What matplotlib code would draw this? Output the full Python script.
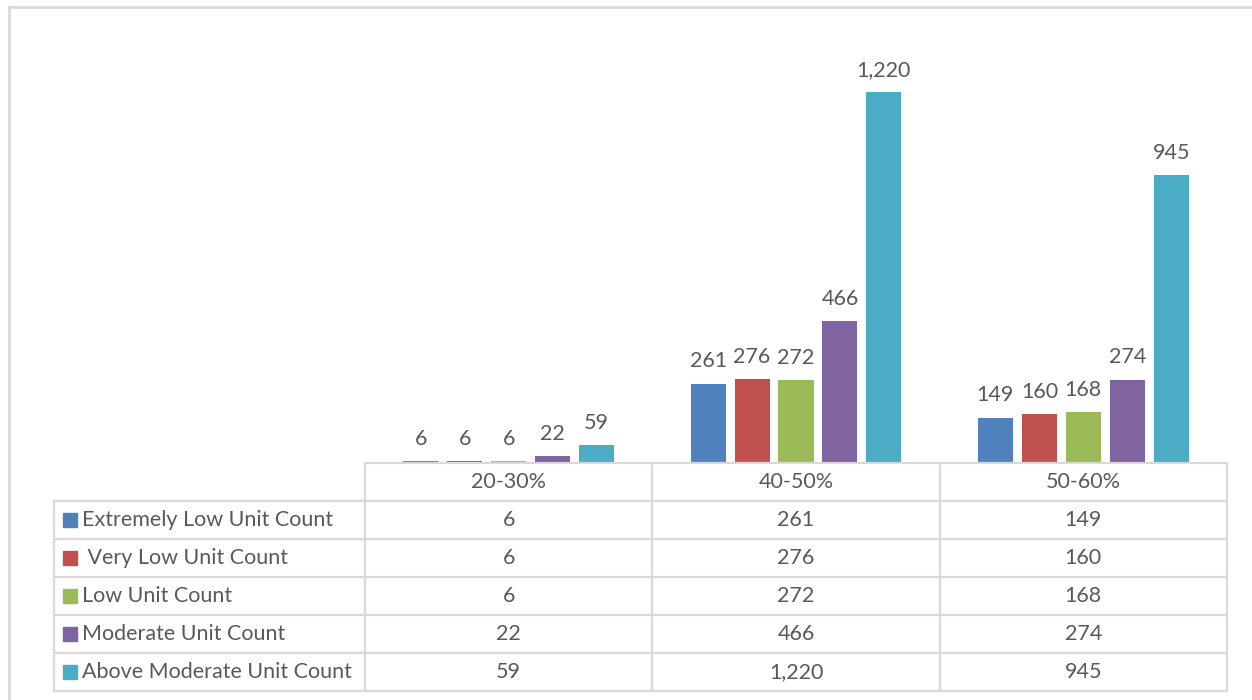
import matplotlib.pyplot as plt
import numpy as np

# data
categories = ["20-30%", "40-50%", "50-60%"]
series_names = ["Extremely Low Unit Count", " Very Low Unit Count", "Low Unit Count",
                "Moderate Unit Count", "Above Moderate Unit Count"]
extremely_low = [6, 261, 149]
very_low = [6, 276, 160]
low = [6, 272, 168]
moderate = [22, 466, 274]
above_moderate = [59, 1220, 945]
values = [extremely_low, very_low, low, moderate, above_moderate]
colors = ["#4F81BD", "#C0504D", "#9BBB59", "#8064A2", "#4BACC6"]

plt.rcParams['font.family'] = ['Lato', 'DejaVu Sans']
txt = "#595959"
grid = "#D9D9D9"
W, H = 1252, 700
fs = 15.5

fig = plt.figure(figsize=(W / 100, H / 100), dpi=100)

# pixel helper -> figure fraction
def fx(px):
    return px / W

def fy(py):
    return 1 - py / H

# bars
plot_l, plot_r, plot_t, plot_b = 365, 1227, 37, 463
ax = fig.add_axes([fx(plot_l), fy(plot_b), fx(plot_r - plot_l), (plot_b - plot_t) / H])
x = np.arange(len(categories))
step = 0.153
bw = 0.122
for i, (vals, c) in enumerate(zip(values, colors)):
    pos = x + (i - 2) * step
    ax.bar(pos, vals, width=bw, color=c)
    for p, v in zip(pos, vals):
        ax.text(p, v + 40, f"{v:,}", ha="center", va="bottom", fontsize=fs, color=txt)
ax.set_xlim(-0.5, len(categories) - 0.5)
ax.set_ylim(0, 1400)
ax.axis("off")

# table drawn in pixel coordinates
tab = fig.add_axes([0, 0, 1, 1])
tab.set_xlim(0, W)
tab.set_ylim(H, 0)
tab.axis("off")

col_edges = [plot_l + k * (plot_r - plot_l) / len(categories) for k in range(len(categories) + 1)]
label_l = 54
row_h = 38
header_t = plot_b
rows_t = header_t + row_h
n_rows = len(series_names)
bottom = rows_t + n_rows * row_h
lw = 1.6

# outer chart border (top and left visible)
tab.plot([9, W], [7, 7], color=grid, lw=2)
tab.plot([9, 9], [7, H], color=grid, lw=2)

# header row
tab.plot([plot_l, plot_r], [header_t, header_t], color=grid, lw=lw)
for e in col_edges:
    tab.plot([e, e], [header_t, bottom], color=grid, lw=lw)
tab.plot([label_l, label_l], [rows_t, bottom], color=grid, lw=lw)
for r in range(n_rows + 1):
    yy = rows_t + r * row_h
    tab.plot([label_l, plot_r], [yy, yy], color=grid, lw=lw)

for j, cat in enumerate(categories):
    cx = (col_edges[j] + col_edges[j + 1]) / 2
    tab.text(cx, header_t + row_h / 2, cat, ha="center", va="center", fontsize=fs, color=txt)

for r, (name, vals, c) in enumerate(zip(series_names, values, colors)):
    cy = rows_t + r * row_h + row_h / 2
    tab.add_patch(plt.Rectangle((63, cy - 7), 14, 14, color=c))
    tab.text(82, cy, name, ha="left", va="center", fontsize=fs, color=txt)
    for j, v in enumerate(vals):
        cx = (col_edges[j] + col_edges[j + 1]) / 2
        tab.text(cx, cy, f"{v:,}", ha="center", va="center", fontsize=fs, color=txt)

fig.savefig("out.png", dpi=100)
